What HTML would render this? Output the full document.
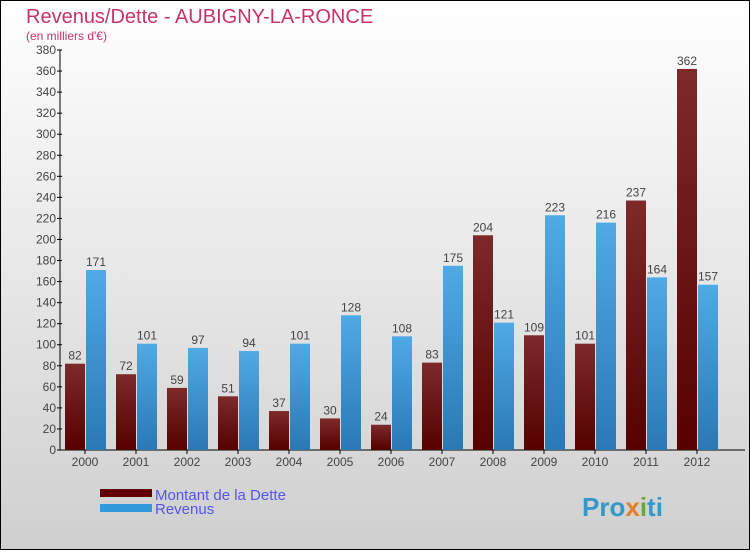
<!DOCTYPE html>
<html><head><meta charset="utf-8"><style>
body{margin:0;}
svg text{font-family:"Liberation Sans",sans-serif;}
</style></head><body>
<svg width="750" height="550" xmlns="http://www.w3.org/2000/svg">
<defs>
<linearGradient id="bg" x1="0" y1="0" x2="0" y2="1"><stop offset="0" stop-color="#ffffff"/><stop offset="1" stop-color="#cfcfcf"/></linearGradient>
<linearGradient id="gd" x1="0" y1="0" x2="0" y2="1"><stop offset="0" stop-color="#7e2a2a"/><stop offset="1" stop-color="#560000"/></linearGradient>
<linearGradient id="gr" x1="0" y1="0" x2="0" y2="1"><stop offset="0" stop-color="#4faae6"/><stop offset="1" stop-color="#2a78b4"/></linearGradient>
</defs>
<rect x="0.5" y="0.5" width="749" height="549" fill="url(#bg)" stroke="#000"/>
<text x="26" y="23" font-size="20" fill="#c8336a">Revenus/Dette - AUBIGNY-LA-RONCE</text>
<text x="26" y="40" font-size="12" fill="#c8336a">(en milliers d'€)</text>
<g id="axes"></g>
<g id="bars"></g>
<rect x="100" y="489" width="52" height="8" fill="#600000"/>
<rect x="100" y="504" width="52" height="8" fill="#3399dd"/>
<text x="155" y="500" font-size="15" fill="#5555ee">Montant de la Dette</text>
<text x="155" y="514" font-size="15" fill="#5555ee">Revenus</text>
<text x="582" y="516" font-size="26" font-weight="bold" fill="#3399cc">Pro<tspan fill="#e67e22">x</tspan><tspan fill="#66aa33">i</tspan>ti</text>
</svg>
<script>
const years=["2000","2001","2002","2003","2004","2005","2006","2007","2008","2009","2010","2011","2012"];
const dette=[82,72,59,51,37,30,24,83,204,109,101,237,362];
const revenus=[171,101,97,94,101,128,108,175,121,223,216,164,157];
const yTicks=[0,20,40,60,80,100,120,140,160,180,200,220,240,260,280,300,320,340,360,380];
const NS="http://www.w3.org/2000/svg";
const y0=450,yTop=50,yMax=380,x0=60,gap=51,c0=85,bw=20;
const yS=v=>y0-(v/yMax)*(y0-yTop);
const xS=i=>c0+i*gap;
function mk(t,a,p){const e=document.createElementNS(NS,t);for(const k in a)e.setAttribute(k,a[k]);p.appendChild(e);return e;}
const ax=document.getElementById('axes'),bars=document.getElementById('bars');
const yl=mk('line',{x1:x0,y1:yTop,x2:x0,y2:y0,stroke:'#000'},ax);


const xl=mk('line',{x1:x0,y1:y0,x2:745,y2:y0,stroke:'#000'},ax);


yTicks.forEach(v=>{
 mk('line',{x1:x0-3,y1:yS(v),x2:x0+2,y2:yS(v),stroke:'#000'},ax);
 const t=mk('text',{x:x0-4,y:yS(v)+4,'font-size':12,'text-anchor':'end',fill:'#444'},ax);
 
 
 t.textContent=v;
});
years.forEach((yr,i)=>{
 const c=xS(i);
 mk('line',{x1:c,y1:y0,x2:c,y2:y0+4,stroke:'#000'},ax);
 const t=mk('text',{x:c,y:y0+16,'font-size':12,'text-anchor':'middle',fill:'#444'},ax);
 
 
 t.textContent=yr;
 [[dette[i],c-bw,'url(#gd)','bar-dette'],[revenus[i],c+1,'url(#gr)','bar-revenus']].forEach(([v,x,f,n])=>{
  const r=mk('rect',{x:x,y:yS(v),width:bw,height:y0-yS(v),fill:f},bars);
  
  
  const l=mk('text',{x:x+bw/2,y:yS(v)-4,'font-size':12,'text-anchor':'middle',fill:'#444'},bars);
  
  
  l.textContent=v;
 });
});
</script>
</body></html>
